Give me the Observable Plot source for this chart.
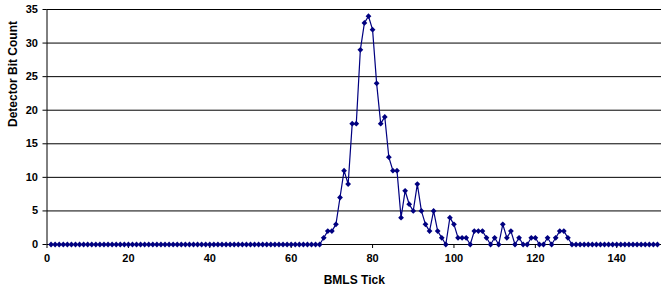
<!DOCTYPE html>
<html>
<head>
<meta charset="utf-8">
<script src="https://cdn.jsdelivr.net/npm/d3@7"></script>
<script src="https://cdn.jsdelivr.net/npm/@observablehq/plot@0.6"></script>
<style>
  html, body { margin: 0; padding: 0; background: #fff; }
</style>
</head>
<body>
<div id="chart"></div>
<script>
// BMLS tick (1..150) and detector bit counts
const ticks = d3.range(1, 151);
// non-zero region from tick 63 to 129; everything else zero
const startTick = 63;
const counts63to129 = [
  0, 0, 0, 0, 0, 1, 2, 2, 3, 7,      // 63-72
  11, 9, 18, 18, 29, 33, 34, 32, 24, 18, // 73-82
  19, 13, 11, 11, 4, 8, 6, 5, 9, 5,  // 83-92
  3, 2, 5, 2, 1, 0, 4, 3, 1, 1,      // 93-102
  1, 0, 2, 2, 2, 1, 0, 1, 0, 3,      // 103-112
  1, 2, 0, 1, 0, 0, 1, 1, 0, 0,      // 113-122
  1, 0, 1, 2, 2, 1, 0                // 123-129
];
const counts = ticks.map(t => {
  const i = t - startTick;
  return (i >= 0 && i < counts63to129.length) ? counts63to129[i] : 0;
});
const xTickValues = [0, 20, 40, 60, 80, 100, 120, 140];
const yTickValues = [0, 5, 10, 15, 20, 25, 30, 35];
const xTitle = "BMLS Tick";
const yTitle = "Detector Bit Count";

const data = ticks.map((t, i) => ({tick: t, count: counts[i]}));

const chart = Plot.plot({
  width: 663,
  height: 295,
  marginLeft: 46.5,
  marginRight: 2,
  marginTop: 9,
  marginBottom: 51,
  style: {fontFamily: "'Liberation Sans', Arial, sans-serif", fontSize: "11px", fontWeight: "bold", color: "#000", background: "#fff"},
  x: {domain: [0, 151], ticks: xTickValues},
  y: {domain: [0, 35], ticks: yTickValues},
  marks: [
    Plot.ruleY(yTickValues, {stroke: "#000", strokeWidth: 1}),
    Plot.ruleX([0], {stroke: "#000", strokeWidth: 1}),
    Plot.axisX({ticks: xTickValues, tickSize: 4, tickPadding: 6, label: null, stroke: "#000"}),
    Plot.axisY({ticks: yTickValues, tickSize: 4, tickPadding: 5, label: null, stroke: "#000"}),
    Plot.line(data, {x: "tick", y: "count", stroke: "#000080", strokeWidth: 1.2}),
    Plot.dot(data, {x: "tick", y: "count", symbol: "diamond2", r: 2.6, fill: "#000080", stroke: "none"}),
    Plot.text([xTitle], {frameAnchor: "bottom", dy: 39, fontSize: 12, fontWeight: "bold", fill: "#000"}),
    Plot.text([yTitle], {frameAnchor: "left", dx: -34, rotate: -90, fontSize: 12, fontWeight: "bold", fill: "#000"})
  ]
});
document.getElementById("chart").appendChild(chart);
</script>
</body>
</html>
